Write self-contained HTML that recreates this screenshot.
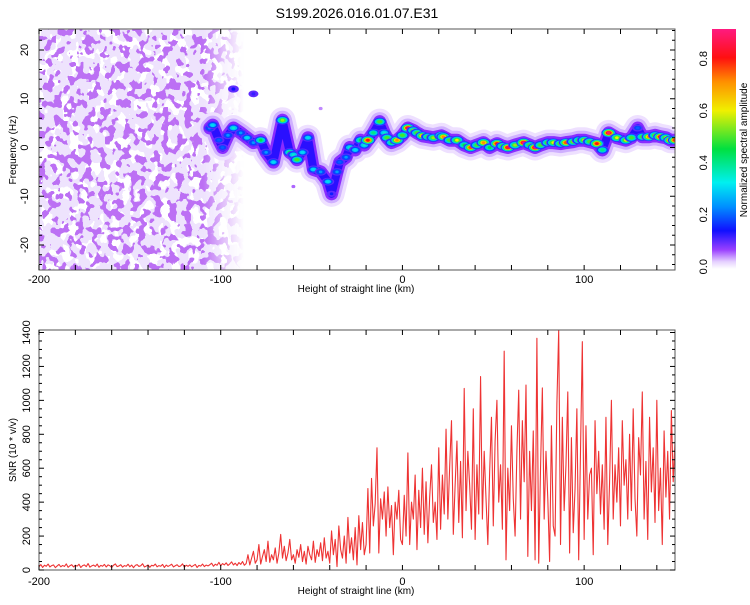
<!DOCTYPE html>
<html><head><meta charset="utf-8"><style>
body{margin:0;background:#fff;width:750px;height:600px;overflow:hidden;font-family:"Liberation Sans",sans-serif}
svg text{font-family:"Liberation Sans",sans-serif;fill:#000}
</style></head><body>
<svg id="chart" width="750" height="600" viewBox="0 0 750 600" xmlns="http://www.w3.org/2000/svg">
<defs>
<filter id="noiseA" x="0" y="0" width="100%" height="100%">
<feTurbulence type="fractalNoise" baseFrequency="0.1 0.08" numOctaves="2" seed="3"/>
<feColorMatrix type="matrix" values="0 0 0 0 0.84  0 0 0 0 0.74  0 0 0 0 0.98  9 0 0 0 -3.7"/>
<feComponentTransfer><feFuncA type="discrete" tableValues="0 0.9 0.9 0.9"/></feComponentTransfer>
<feComposite operator="in" in2="SourceGraphic"/>
</filter>
<filter id="noiseB" x="0" y="0" width="100%" height="100%">
<feTurbulence type="fractalNoise" baseFrequency="0.13 0.11" numOctaves="2" seed="11"/>
<feColorMatrix type="matrix" values="0 0 0 0 0.5  0 0 0 0 0.16  0 0 0 0 0.9  10 0 0 0 -5.3"/>
<feComponentTransfer><feFuncA type="discrete" tableValues="0 0.85 1 1"/></feComponentTransfer>
<feComposite operator="in" in2="SourceGraphic"/>
</filter>
<linearGradient id="fade" x1="0" x2="1" y1="0" y2="0">
<stop offset="0" stop-color="#fff"/><stop offset="0.8" stop-color="#fff"/><stop offset="0.9" stop-color="#fff" stop-opacity="0.45"/><stop offset="1" stop-color="#fff" stop-opacity="0"/>
</linearGradient>
<linearGradient id="cbar" x1="0" x2="0" y1="1" y2="0">
<stop offset="0" stop-color="#ffffff"/><stop offset="0.03" stop-color="#e6d2ff"/><stop offset="0.08" stop-color="#9a40ff"/>
<stop offset="0.16" stop-color="#1010ff"/><stop offset="0.26" stop-color="#0090ff"/><stop offset="0.36" stop-color="#00f0f0"/>
<stop offset="0.5" stop-color="#00e040"/><stop offset="0.66" stop-color="#f0f000"/><stop offset="0.78" stop-color="#ff9000"/>
<stop offset="0.88" stop-color="#ff1010"/><stop offset="1" stop-color="#ff1a80"/>
</linearGradient>
<clipPath id="clipTop"><rect x="39" y="29" width="636" height="241"/></clipPath>
<clipPath id="clipBot"><rect x="39" y="330" width="636" height="240"/></clipPath>
<mask id="noiseMask"><rect x="39" y="29" width="205" height="241" fill="url(#fade)"/></mask>
</defs>
<text x="357" y="18" font-size="14" text-anchor="middle">S199.2026.016.01.07.E31</text>
<g id="topPanel"></g>
<g id="botPanel"></g>
<g id="cbPanel"></g>
</svg>
<script>
// ---- SNR series (x in km, step 1 km from -200) ----
const snrStart = -200;
const snrStep = 1;
const snrValues = [
20,32,15,28,22,35,18,26,30,14,24,33,19,27,21,36,16,25,31,18,28,23,34,15,26,30,20,38,17,24,
29,21,35,16,27,22,33,18,30,25,15,28,36,20,24,31,17,26,22,34,19,29,14,27,32,21,25,37,18,23,
30,16,28,24,35,19,26,22,33,15,29,21,27,34,18,25,31,20,24,36,17,28,22,30,19,26,33,15,27,23,
35,20,29,24,31,40,22,34,28,45,25,38,30,42,27,36,48,30,40,26,44,33,50,28,38,
90,30,70,110,40,60,150,35,80,120,50,170,45,90,60,130,40,100,210,70,140,55,100,180,60,
90,40,120,75,150,50,110,35,140,90,60,170,45,120,80,160,55,190,70,110,
40,230,90,180,20,260,120,70,200,40,310,100,190,60,250,30,320,120,280,90,
150,480,100,540,260,390,720,100,420,300,460,200,490,250,380,90,400,300,470,180,
150,440,200,690,150,400,300,560,120,470,250,600,210,520,160,430,620,280,400,180,720,240,560,330,830,
300,610,880,210,500,760,280,640,190,1070,350,700,500,240,950,180,620,330,1140,300,700,420,150,580,900,
260,760,1000,400,620,240,1290,60,600,350,850,420,200,700,1060,300,880,520,1090,80,700,350,820,60,1366,
40,600,1073,300,700,420,50,850,260,200,980,1415,150,900,350,620,1050,100,780,220,480,950,60,700,1346,
180,850,300,560,600,90,880,450,700,330,620,240,900,150,520,1000,300,620,400,720,260,880,500,650,300,800,
350,950,420,200,780,560,1050,300,640,180,900,460,720,280,1000,350,600,150,820,430,700,300,940,520,760];
const xTickLabels = [-200,-100,0,100];
const freqTickLabels = [20,10,0,-10,-20];
const snrTickLabels = [0,200,400,600,800,1000,1200,1400];
const cbTickLabels = [0.0,0.2,0.4,0.6,0.8];
// ---- spectrogram ridge blobs ----
const ridgeX = [-106,-104.4,-101,-99,-96,-93,-89,-85.5,-82,-78,-75,-71,-66,-62,-60,-58,-55,-52,-49,-45,-41,-39,-36,-34.5,-31,-29,-26,-23,-21,-19,-16,-12.5,-10,-8.5,-6,-3,0,3,6,8,11,14,17,21.5,22.5,26,30,34,37.5,41,44.6,48,52,55,58,62,66.7,70,73,76,80,83,87,90,94,97,100,103,107,110,113.5,118,123,126,129.5,132,135.5,139,142,145,147.5,150];
const ridgeF = [4,4.6,1.5,0,2.5,4,3,2,1,1.5,-1,-3,5.6,-1,-1.5,-2.5,-1,2,-4.5,-5,-7,-9.5,-5,-3,-2,0,-0.5,1.5,0.5,1.5,3,5.3,3,2,1,1.5,2.5,4,3.5,3,2.4,2.2,2,2.4,2.2,1.5,1.5,0.5,0,0.5,1,0,0.8,0.3,0,0.5,1,0.5,0,0.5,1,1,0.8,1,1.2,1.5,1.5,1.2,0.8,-0.5,3,2,1.5,2,4,2.2,2.2,2.5,2.2,2,1.5,1.5];
const ridgeA = [0.25,0.3,0.2,0.2,0.25,0.35,0.25,0.3,0.25,0.45,0.25,0.3,0.55,0.45,0.35,0.5,0.3,0.3,0.3,0.25,0.3,0.15,0.25,0.2,0.25,0.35,0.3,0.45,0.35,0.8,0.4,0.5,0.35,0.5,0.45,0.7,0.5,0.85,0.55,0.5,0.7,0.5,0.55,0.8,0.7,0.5,0.6,0.45,0.75,0.5,0.7,0.45,0.8,0.5,0.85,0.55,0.9,0.5,0.9,0.5,0.55,0.6,0.55,0.75,0.55,0.5,0.6,0.5,0.8,0.4,0.9,0.6,0.6,0.5,0.2,0.5,0.7,0.55,0.85,0.6,0.85,0.8];
const sideX = [-93,-82,-60,-45];
const sideF = [12,11,-8,8];
const sideA = [0.14,0.12,0.06,0.05];

const NS="http://www.w3.org/2000/svg";
const X0=39,X1=675,XMIN=-200,XMAX=150;
const xs=v=>X0+(v-XMIN)/(XMAX-XMIN)*(X1-X0);
const fy=f=>147.5-4.875*f;
const sy=v=>570-v*(237.5/1400);
function mk(tag,attrs,parent){const e=document.createElementNS(NS,tag);for(const k in attrs)e.setAttribute(k,attrs[k]);parent.appendChild(e);return e;}
function cmap(a){
  const st=[[0,[255,255,255]],[0.03,[230,210,255]],[0.07,[154,64,255]],[0.14,[16,16,255]],[0.24,[0,144,255]],[0.32,[0,240,240]],[0.46,[0,224,64]],[0.6,[240,240,0]],[0.7,[255,144,0]],[0.8,[255,16,16]],[0.92,[255,26,128]]];
  for(let i=1;i<st.length;i++){if(a<=st[i][0]){const t=(a-st[i-1][0])/(st[i][0]-st[i-1][0]);const c=st[i-1][1].map((v,j)=>Math.round(v+(st[i][1][j]-v)*t));return `rgb(${c})`;}}
  return 'rgb(255,26,128)';
}
const topPanel=document.getElementById('topPanel'),botPanel=document.getElementById('botPanel'),cbPanel=document.getElementById('cbPanel');

// ---- top panel ----
const tg=mk('g',{'clip-path':'url(#clipTop)'},topPanel);
const ng=mk('g',{mask:'url(#noiseMask)'},tg);


mk('rect',{x:39,y:29,width:205,height:241,fill:'#fff',filter:'url(#noiseA)'},ng);
mk('rect',{x:39,y:29,width:205,height:241,fill:'#fff',filter:'url(#noiseB)'},ng);
const pts=ridgeX.map((x,i)=>xs(x)+','+fy(ridgeF[i])).join(' ');
[['#eee0ff',26],['#cfb0ff',19],['#8a2cff',13],['#2a10ff',8]].forEach(([c,w])=>{
  const p=mk('polyline',{points:pts,fill:'none',stroke:c,'stroke-width':w,'stroke-linejoin':'round','stroke-linecap':'round'},tg);
  
  
});
function blob(x,f,a,rx,ry){
  const g=mk('g',{},tg);
  
  
  const lv=[0.1,0.18,0.28,0.38,0.5,0.62,0.72,0.82];
  lv.filter(l=>l<=a).forEach(l=>{const s=1-0.75*(l/(a+0.05));mk('ellipse',{cx:xs(x),cy:fy(f),rx:rx*s,ry:ry*s,fill:cmap(l)},g);});
  mk('ellipse',{cx:xs(x),cy:fy(f),rx:rx*0.22,ry:ry*0.28,fill:cmap(a)},g);
}
sideX.forEach((x,i)=>blob(x,sideF[i],sideA[i],9,6));
ridgeX.forEach((x,i)=>blob(x,ridgeF[i],ridgeA[i],8,5));
const tf=mk('rect',{x:39,y:29,width:636,height:241,fill:'none',stroke:'#555','stroke-width':1},topPanel);


function xAxis(parent,yb,yt,ly){
  for(let v=-200;v<=150;v+=20){const x=xs(v);
    mk('line',{x1:x,x2:x,y1:yb,y2:yb-5,stroke:'#000'},parent);mk('line',{x1:x,x2:x,y1:yt,y2:yt+5,stroke:'#000'},parent);}
  xTickLabels.forEach(v=>{const t=mk('text',{x:xs(v),y:ly,'font-size':11,'text-anchor':'middle'},parent);t.textContent=v;
    
    });
  const l=mk('text',{x:356,y:ly+9,'font-size':10,'text-anchor':'middle'},parent);l.textContent='Height of straight line (km)';
  
  
}
xAxis(topPanel,270,29,283);
for(let f=-24;f<=24;f+=2){const y=fy(f);const L=(f%10===0)?5:3;
  mk('line',{x1:39,x2:39+L,y1:y,y2:y,stroke:'#000'},topPanel);mk('line',{x1:675,x2:675-L,y1:y,y2:y,stroke:'#000'},topPanel);}
freqTickLabels.forEach(v=>{const t=mk('text',{x:0,y:0,'font-size':11,'text-anchor':'middle',transform:`translate(28,${fy(v)}) rotate(-90)`},topPanel);t.textContent=v;
  
  });
const fl=mk('text',{x:0,y:0,'font-size':10,'text-anchor':'middle',transform:'translate(16,150) rotate(-90)'},topPanel);fl.textContent='Frequency (Hz)';



// ---- bottom panel ----
const bg=mk('g',{'clip-path':'url(#clipBot)'},botPanel);
const sp=snrValues.map((v,i)=>xs(snrStart+i*snrStep)+','+sy(v)).join(' ');
const snrLine=mk('polyline',{points:sp,fill:'none',stroke:'#ee3333','stroke-width':1.1,'stroke-linejoin':'round'},bg);


const bf=mk('rect',{x:39,y:330,width:636,height:240,fill:'none',stroke:'#555','stroke-width':1},botPanel);


xAxis(botPanel,570,330,585);
for(let v=0;v<=1400;v+=50){const y=sy(v);const L=(v%200===0)?5:3;
  mk('line',{x1:39,x2:39+L,y1:y,y2:y,stroke:'#000'},botPanel);mk('line',{x1:675,x2:675-L,y1:y,y2:y,stroke:'#000'},botPanel);}
snrTickLabels.forEach(v=>{const t=mk('text',{x:0,y:0,'font-size':11,'text-anchor':'middle',transform:`translate(30,${sy(v)}) rotate(-90)`},botPanel);t.textContent=v;
  
  });
const sl=mk('text',{x:0,y:0,'font-size':10,'text-anchor':'middle',transform:'translate(16,450) rotate(-90)'},botPanel);sl.textContent='SNR (10 * v/v)';



// ---- colorbar ----
const cy=a=>266.7-a*260;
const cr=mk('rect',{x:712,y:29,width:24,height:240,fill:'url(#cbar)'},cbPanel);


cbTickLabels.forEach(v=>{const t=mk('text',{x:0,y:0,'font-size':11,'text-anchor':'middle',transform:`translate(707,${cy(v)}) rotate(-90)`},cbPanel);t.textContent=v.toFixed(1);
  
  });
const cl=mk('text',{x:0,y:0,'font-size':10,'text-anchor':'middle',transform:'translate(747,150) rotate(-90)'},cbPanel);cl.textContent='Normalized spectral amplitude';


</script>
</body></html>
